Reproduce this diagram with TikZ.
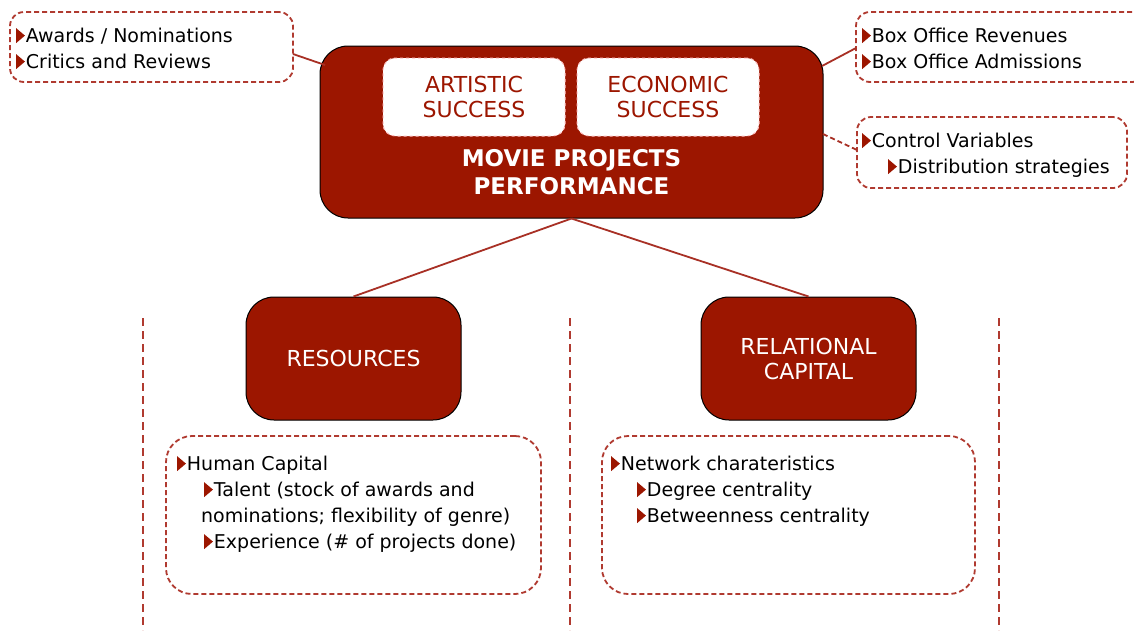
\documentclass[tikz,border=0pt]{standalone}
\usepackage{fontspec}
\setmainfont{DejaVu Sans}
\definecolor{mred}{HTML}{9C1600}
\definecolor{lred}{HTML}{B03A30}
\definecolor{cred}{HTML}{A83025}
\newcommand{\btri}{\tikz[baseline=0pt]\fill[mred] (0,-0.02em) -- (0,0.76em) -- (0.46em,0.37em) -- cycle;\hspace{1pt}}
\tikzset{
  darkbox/.style={draw=black, line width=1pt, fill=mred, rounded corners=28pt, text=white, align=center, font=\fontsize{22}{25}\selectfont, inner sep=0pt},
  succbox/.style={draw=red!25, dashed, line width=1pt, fill=white, rounded corners=12pt, text=mred, align=center, font=\fontsize{22}{25}\selectfont, inner sep=0pt, minimum width=182pt, minimum height=78pt},
  dashbox/.style={draw=lred, dashed, dash pattern=on 5pt off 3pt, line width=1.8pt, rounded corners=14pt, inner sep=0pt},
  bigdash/.style={dashbox, rounded corners=26pt},
  bodytext/.style={anchor=north west, align=left, inner sep=0pt, font=\fontsize{19}{26}\selectfont},
  conn/.style={draw=cred, line width=1.8pt},
  vline/.style={draw=lred, dashed, dash pattern=on 8pt off 5pt, line width=1.4pt}
}
\begin{document}
\begin{tikzpicture}[x=1pt, y=-1pt]
\clip (0,0) rectangle (1134,630);
\fill[white] (0,0) rectangle (1134,630);

% main box
\node[darkbox, minimum width=503pt, minimum height=172pt] (main) at (571.5,132) {};
\node[succbox] (art) at (474,97) {ARTISTIC\\SUCCESS};
\node[succbox] (eco) at (668,97) {ECONOMIC\\SUCCESS};
\node[text=white, font=\fontsize{23}{28}\selectfont\bfseries, align=center, inner sep=0pt] (mpp) at (571.5,172) {MOVIE PROJECTS\\PERFORMANCE};

% top-left box
\node[dashbox, minimum width=283pt, minimum height=70pt] (tl) at (151.5,47) {};
\node[bodytext] (tltext) at (16,28) {\btri Awards / Nominations\\\btri Critics and Reviews};

% top-right boxes
\node[dashbox, minimum width=290pt, minimum height=70pt] (tr) at (1001,47) {};
\node[bodytext] (trtext) at (862,28) {\btri Box Office Revenues\\\btri Box Office Admissions};
\node[dashbox, minimum width=270pt, minimum height=71pt] (cv) at (992,152.5) {};
\node[bodytext] (cvtext) at (862,133) {\btri Control Variables\\\hspace*{26pt}\btri Distribution strategies};

% connectors top
\coordinate (tlc) at (293,54);
\coordinate (mtl) at (325,65);
\draw[conn] (tlc) -- (mtl);
\coordinate (trc) at (856,48);
\coordinate (mtr) at (822,66);
\draw[conn] (mtr) -- (trc);
\coordinate (cvc) at (857,150);
\coordinate (mcv) at (823,134);
\draw[conn, dashed, dash pattern=on 5pt off 3pt] (mcv) -- (cvc);

% middle boxes
\node[darkbox, minimum width=215pt, minimum height=123pt] (res) at (353.5,358.5) {RESOURCES};
\node[darkbox, minimum width=215pt, minimum height=123pt] (rel) at (808.5,358.5) {RELATIONAL\\CAPITAL};
\draw[conn] (main.south) -- (res.north);
\draw[conn] (main.south) -- (rel.north);

% vertical dashed lines
\coordinate (v1a) at (143,318); \coordinate (v1b) at (143,630);
\coordinate (v2a) at (570,318); \coordinate (v2b) at (570,630);
\coordinate (v3a) at (999,318); \coordinate (v3b) at (999,630);
\draw[vline] (v1a) -- (v1b);
\draw[vline] (v2a) -- (v2b);
\draw[vline] (v3a) -- (v3b);

% bottom boxes
\node[bigdash, minimum width=375pt, minimum height=158pt] (bl) at (353.5,515) {};
\node[bodytext] (bltext) at (177,456) {\btri Human Capital\\
\hspace*{27pt}\btri Talent (stock of awards and\\
\hspace*{24pt}nominations; flexibility of genre)\\
\hspace*{27pt}\btri Experience (\# of projects done)};
\node[bigdash, minimum width=373pt, minimum height=158pt] (br) at (788.5,515) {};
\node[bodytext] (brtext) at (611,456) {\btri Network charateristics\\
\hspace*{26pt}\btri Degree centrality\\
\hspace*{26pt}\btri Betweenness centrality};
\end{tikzpicture}
\end{document}
